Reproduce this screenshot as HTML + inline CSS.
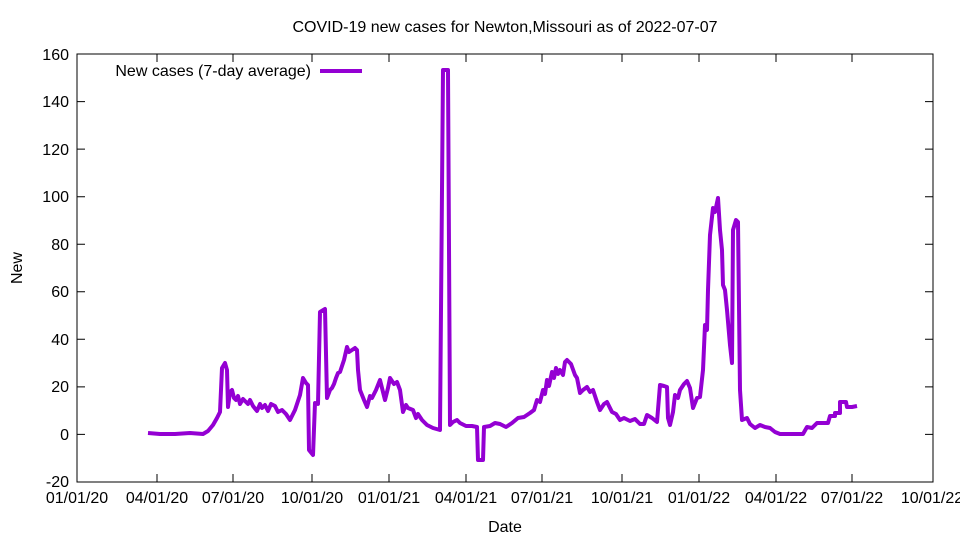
<!DOCTYPE html>
<html><head><meta charset="utf-8"><style>body{margin:0;background:#fff}svg{display:block}text{font-family:"Liberation Sans",sans-serif;font-size:16px;fill:#000}</style></head>
<body>
<svg width="960" height="540" viewBox="0 0 960 540">
<rect x="77" y="54" width="856" height="428" fill="none" stroke="#000" stroke-width="1"/>
<g stroke="#000" stroke-width="1">
<path d="M77 54h8M933 54h-8M77 101.6h8M933 101.6h-8M77 149.1h8M933 149.1h-8M77 196.7h8M933 196.7h-8M77 244.2h8M933 244.2h-8M77 291.8h8M933 291.8h-8M77 339.3h8M933 339.3h-8M77 386.9h8M933 386.9h-8M77 434.4h8M933 434.4h-8"/>
<path d="M77 482v-8M77 54v8M157 482v-8M157 54v8M233 482v-8M233 54v8M312 482v-8M312 54v8M389 482v-8M389 54v8M466 482v-8M466 54v8M542 482v-8M542 54v8M622 482v-8M622 54v8M699 482v-8M699 54v8M776 482v-8M776 54v8M852 482v-8M852 54v8M933 482v-8M933 54v8"/>
</g>
<g text-anchor="end">
<text x="69" y="60">160</text><text x="69" y="107">140</text><text x="69" y="155">120</text><text x="69" y="202">100</text><text x="69" y="250">80</text><text x="69" y="297">60</text><text x="69" y="345">40</text><text x="69" y="392">20</text><text x="69" y="440">0</text><text x="69" y="487">-20</text>
</g>
<g text-anchor="middle">
<text x="77" y="503">01/01/20</text><text x="157" y="503">04/01/20</text><text x="233" y="503">07/01/20</text><text x="312" y="503">10/01/20</text><text x="389" y="503">01/01/21</text><text x="466" y="503">04/01/21</text><text x="542" y="503">07/01/21</text><text x="622" y="503">10/01/21</text><text x="699" y="503">01/01/22</text><text x="776" y="503">04/01/22</text><text x="852" y="503">07/01/22</text><text x="932" y="503">10/01/22</text>
<text x="505" y="532">Date</text>
<text x="505" y="32">COVID-19 new cases for Newton,Missouri as of 2022-07-07</text>
<text x="22" y="268" transform="rotate(-90 22 268)">New</text>
</g>
<text x="311" y="76" text-anchor="end">New cases (7-day average)</text>
<line x1="320" y1="71" x2="362" y2="71" stroke="#9400d3" stroke-width="4"/>
<polyline fill="none" stroke="#9400d3" stroke-width="4" stroke-linejoin="round" points="148,433 160,434 175,434 190,433 203,434 208,431 213,425 217,418 220,412 222,368 225,363 227,370 228,407 230,392 232,390 234,398 236,400 238,396 240,404 243,399 245,401 248,404 250,400 253,406 257,411 260,404 262,408 265,405 268,411 271,404 275,406 278,412 282,410 286,414 290,420 295,410 300,395 303,378 306,383 308,385 309,450 313,455 315,403 318,404 320,312 325,309 327,398 330,390 332,388 334,384 336,378 338,373 340,372 342,366 344,360 347,347 349,352 352,350 355,348 357,350 358,370 360,390 364,400 367,407 370,396 372,398 376,390 380,380 383,392 385,400 388,388 390,378 394,384 397,382 400,390 403,412 406,405 408,408 413,410 416,418 418,414 422,420 427,425 433,428 440,430 443,70 448,70 450,425 453,422 457,420 460,423 466,426 472,426 477,427 478,460 483,460 484,427 490,426 495,423 500,424 506,427 512,423 518,418 524,417 530,413 534,410 537,400 540,402 543,390 545,394 547,380 549,386 552,372 554,378 556,368 558,374 560,370 563,375 565,362 567,360 571,364 575,375 577,378 580,393 583,390 587,387 590,392 593,390 597,402 600,410 604,404 607,402 612,412 616,414 620,420 624,418 630,421 635,419 640,424 644,424 647,415 652,418 657,422 660,385 664,386 667,387 668,418 670,425 673,412 675,395 678,398 680,390 684,384 687,381 690,388 693,408 697,398 700,397 703,370 705,325 707,330 708,290 710,235 713,208 715,212 718,198 720,230 722,250 723,285 725,290 727,310 730,345 732,363 733,230 736,220 738,222 740,390 742,420 747,418 750,424 755,428 760,425 765,427 770,428 775,432 780,434 803,434 807,427 812,428 817,423 828,423 830,416 835,416 835,413 840,413 840,402 846,402 847,407 852,407 857,406"/>
</svg>
</body></html>
